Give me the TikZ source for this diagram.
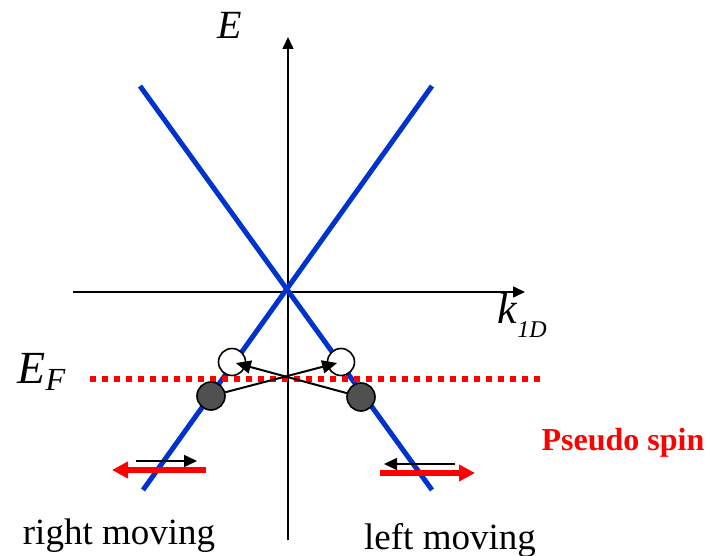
\documentclass[tikz,border=0pt]{standalone}
\usepackage{fontspec}
\setmainfont{Liberation Serif}
\usepackage{xcolor}
\usetikzlibrary{arrows.meta,positioning,calc}

\definecolor{bandblue}{RGB}{0,51,204}
\definecolor{holegray}{RGB}{80,80,80}

\tikzset{
  band/.style={draw=bandblue, line width=2.5pt},
  axis/.style={line width=0.75pt, -{Triangle[length=6pt,width=5.5pt]}},
  fermi/.style={draw=red, line width=3pt, dash pattern=on 3pt off 3pt},
  hole/.style={circle, draw, line width=0.8pt, fill=white, minimum size=13.5pt, inner sep=0pt},
  elec/.style={circle, draw, line width=0.8pt, fill=holegray, minimum size=14pt, inner sep=0pt},
  hop/.style={line width=1pt, -{Triangle[length=7.5pt,width=6.5pt]}, shorten >=2pt},
  spinarrow/.style={red, line width=3pt, -{Triangle[length=8pt,width=8pt]}},
  velarrow/.style={line width=0.8pt, -{Triangle[length=6.5pt,width=6pt]}}
}

\begin{document}
\begin{tikzpicture}[x=0.5pt, y=-0.5pt, every node/.style={font=\fontsize{18.5}{22}\selectfont}]
\useasboundingbox (0,0) rectangle (708,556);

% axes
\coordinate (kL) at (73,292);
\coordinate (kR) at (525,292);
\coordinate (eB) at (288,540);
\coordinate (eT) at (288,37);
\draw[axis] (kL) -- (kR);
\draw[axis] (eB) -- (eT);
\node (lblE) at (230,25) {\fontsize{20}{24}\selectfont\textit{E}};
\node (lblk) at (522,315) {\fontsize{22}{26}\selectfont\textit{k}\raisebox{-0.7ex}{\fontsize{12}{14}\selectfont\textit{1D}}};

% bands
\coordinate (b1s) at (140,86);
\coordinate (b1e) at (432,490);
\coordinate (b2s) at (432,86);
\coordinate (b2e) at (143,490);
\draw[band] (b1s) -- (b1e);
\draw[band] (b2s) -- (b2e);

% Fermi level
\coordinate (fL) at (90,379);
\coordinate (fR) at (542,379);
\draw[fermi] (fL) -- (fR);
\node (lblEF) at (42,372) {\fontsize{23}{26}\selectfont\textit{E}\textsubscript{\textit{F}}};

% states and scattering
\node[hole] (hl) at (232,362) {};
\node[hole] (hr) at (341,362) {};
\node[elec] (el) at (211,396) {};
\node[elec] (er) at (361,397) {};
\draw[hop] (el) -- (hr.center);
\draw[hop] (er) -- (hl.center);

% pseudo spin arrows
\coordinate (vl1) at (136,461);
\coordinate (vl2) at (197,461);
\coordinate (sl1) at (206,470);
\coordinate (sl2) at (112,470);
\draw[velarrow] (vl1) -- (vl2);
\draw[spinarrow] (sl1) -- (sl2);
\coordinate (vr1) at (455,464);
\coordinate (vr2) at (384,464);
\coordinate (sr1) at (380,473);
\coordinate (sr2) at (475,473);
\draw[velarrow] (vr1) -- (vr2);
\draw[spinarrow] (sr1) -- (sr2);
\node[text=red, font=\fontsize{16}{19}\selectfont\bfseries] (lblps) at (623,443) {Pseudo spin};

\node (lblrm) at (119,536) {right moving};
\node (lbllm) at (450,540) {left moving};
\end{tikzpicture}
\end{document}
